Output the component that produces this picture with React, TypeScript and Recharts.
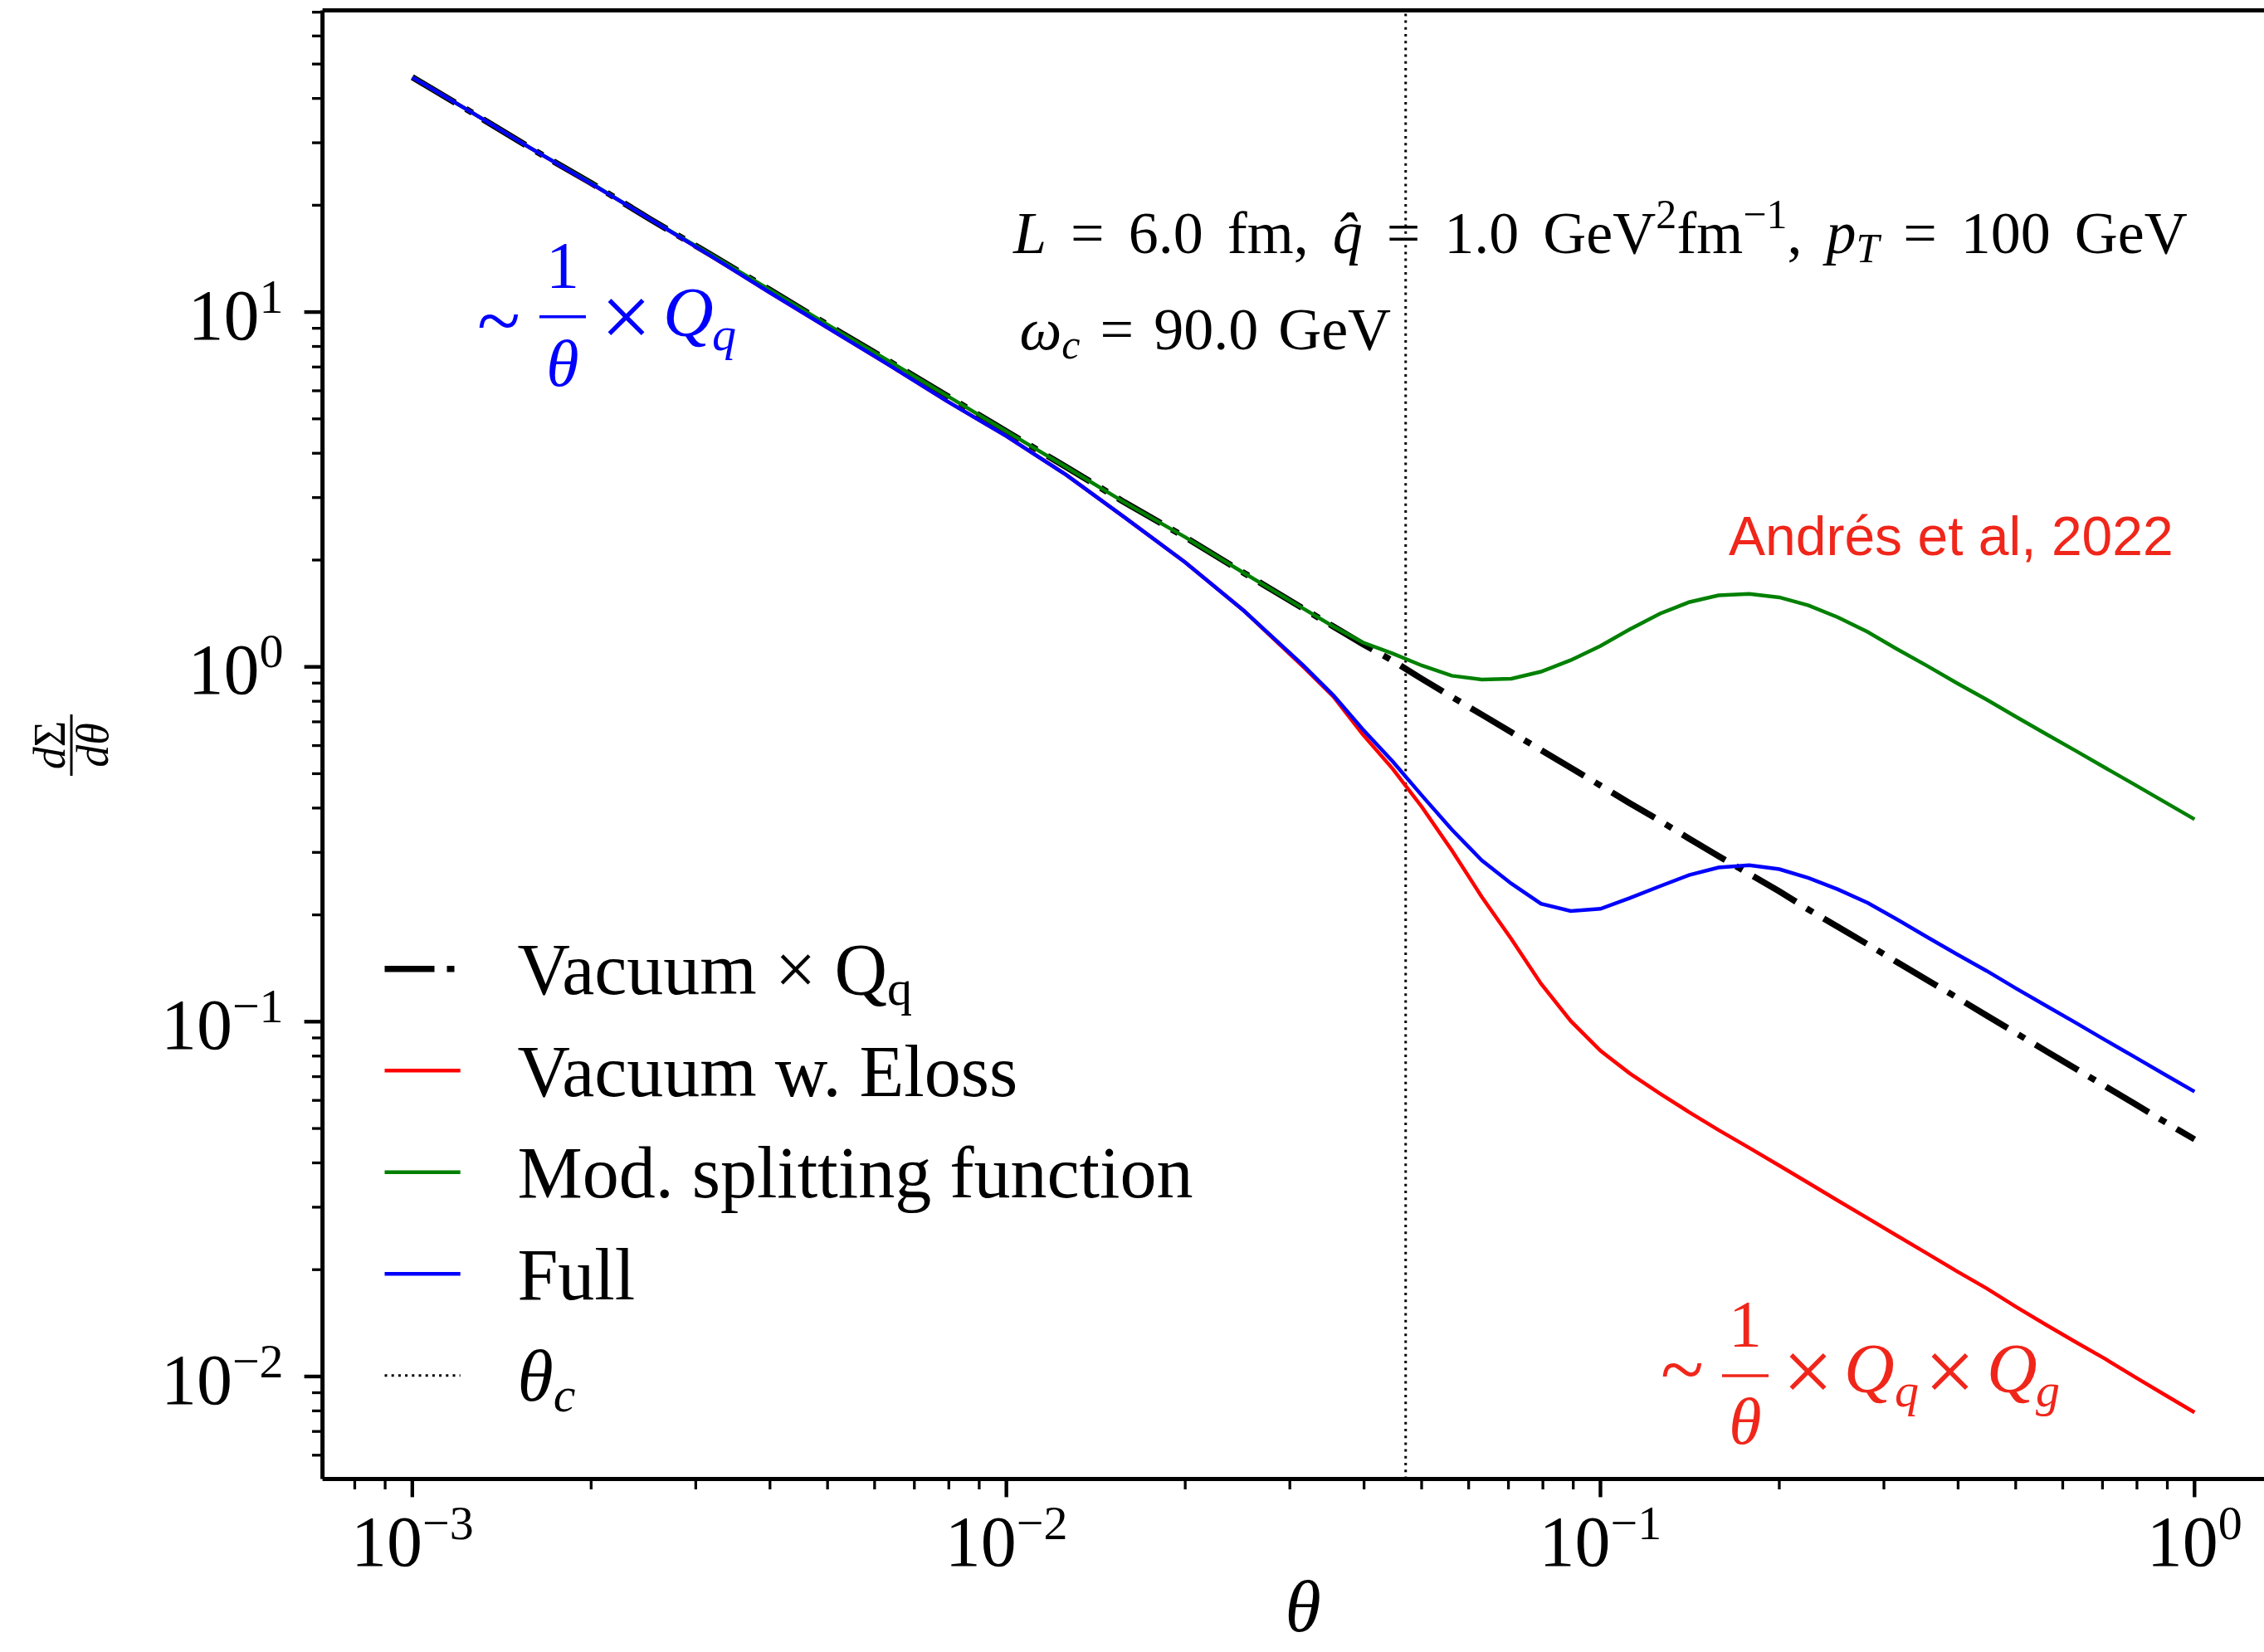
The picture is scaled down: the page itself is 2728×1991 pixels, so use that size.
import { LineChart, Line, XAxis, YAxis, ReferenceLine, Legend } from 'recharts';

// theta grid and the four curves
const THETA = [
  0.001, 0.00126, 0.00158, 0.002, 0.00251, 0.00316, 0.00398, 0.00501, 0.00631, 0.00794,
  0.01, 0.0126, 0.0158, 0.02, 0.0251, 0.0316,
  0.0355, 0.0398, 0.0447, 0.0501, 0.0562, 0.0631, 0.0708, 0.0794, 0.0891,
  0.1, 0.112, 0.126, 0.141, 0.158, 0.178, 0.2, 0.224, 0.251, 0.282, 0.316, 0.355, 0.398,
  0.447, 0.501, 0.562, 0.631, 0.708, 0.794, 0.891, 1.0,
];

const VACUUM = [
  45.9, 36.5, 29.0, 23.1, 18.3, 14.6, 11.6, 9.19, 7.31, 5.81,
  4.61, 3.66, 2.91, 2.32, 1.84, 1.46,
  1.3, 1.16, 1.04, 0.924, 0.823, 0.734, 0.654, 0.583, 0.52,
  0.463, 0.413, 0.368, 0.328, 0.293, 0.261, 0.233, 0.207, 0.185, 0.165, 0.147, 0.131, 0.117,
  0.104, 0.0928, 0.0827, 0.0737, 0.0657, 0.0586, 0.0522, 0.0466,
];

const ELOSS = [
  45.9, 36.5, 29.0, 23.0, 18.3, 14.5, 11.4, 9.02, 7.13, 5.61,
  4.47, 3.48, 2.64, 1.97, 1.44, 1.0,
  0.825, 0.645, 0.516, 0.402, 0.304, 0.225, 0.171, 0.128, 0.1005,
  0.0828, 0.0715, 0.0627, 0.0556, 0.0495, 0.0441, 0.0393, 0.0351, 0.0313, 0.0279, 0.0249, 0.0222, 0.0198,
  0.0177, 0.0157, 0.014, 0.0125, 0.0112, 0.00996, 0.00888, 0.00792,
];

const MOD_SPLIT = [
  45.9, 36.5, 29.0, 23.1, 18.3, 14.6, 11.6, 9.19, 7.31, 5.81,
  4.61, 3.66, 2.91, 2.32, 1.84, 1.46,
  1.3, 1.172, 1.09, 1.008, 0.944, 0.921, 0.926, 0.969, 1.044,
  1.145, 1.276, 1.413, 1.522, 1.59, 1.605, 1.57, 1.49, 1.379, 1.253, 1.121, 1.006, 0.9,
  0.808, 0.723, 0.647, 0.58, 0.519, 0.465, 0.416, 0.372,
];

const FULL = [
  45.9, 36.5, 29.0, 23.0, 18.3, 14.5, 11.4, 9.02, 7.13, 5.61,
  4.47, 3.48, 2.64, 1.97, 1.44, 1.01,
  0.832, 0.667, 0.541, 0.433, 0.348, 0.285, 0.245, 0.215, 0.205,
  0.208, 0.223, 0.241, 0.259, 0.272, 0.276, 0.269, 0.254, 0.236, 0.216, 0.194, 0.173, 0.155,
  0.139, 0.124, 0.111, 0.0993, 0.0887, 0.0794, 0.071, 0.0635,
];

const THETA_C = 0.047;

const X_MAJOR = [0.001, 0.01, 0.1, 1];
const X_MINOR = [
  0.0008, 0.0009, 0.002, 0.003, 0.004, 0.005, 0.006, 0.007, 0.008, 0.009,
  0.02, 0.03, 0.04, 0.05, 0.06, 0.07, 0.08, 0.09,
  0.2, 0.3, 0.4, 0.5, 0.6, 0.7, 0.8, 0.9,
];
const Y_MAJOR = [0.01, 0.1, 1, 10];
const Y_MINOR = [
  0.006, 0.007, 0.008, 0.009,
  0.02, 0.03, 0.04, 0.05, 0.06, 0.07, 0.08, 0.09,
  0.2, 0.3, 0.4, 0.5, 0.6, 0.7, 0.8, 0.9,
  2, 3, 4, 5, 6, 7, 8, 9,
  20, 30, 40, 50, 60, 70,
];

const X_DOMAIN = [0.000706, 1.309];
const Y_DOMAIN = [0.005144, 70.8];

const W = 2728;
const H = 1991;
const SERIF = '"Liberation Serif", "DejaVu Serif", serif';
const SANS = '"Liberation Sans", Arial, sans-serif';
const TEXT_RED = '#f0261b';

const data = THETA.map((theta, i) => ({
  theta,
  vacuum: VACUUM[i],
  eloss: ELOSS[i],
  mod: MOD_SPLIT[i],
  full: FULL[i],
}));

function expLabel(v: number) {
  const e = Math.round(Math.log10(v));
  return e < 0 ? `\u2212${-e}` : `${e}`;
}

function XTick(props: any) {
  const { x, y, payload } = props;
  const v = payload.value;
  const major = X_MAJOR.includes(v);
  return (
    <g>
      <line x1={x} x2={x} y1={y} y2={y + (major ? 22 : 12.6)} stroke="#000" strokeWidth={major ? 4.4 : 3.3} />
      {major && (
        <text x={x} y={y + 104.6} textAnchor="middle" fontFamily={SERIF} fontSize={86} fill="#000">
          10<tspan dy={-32} fontSize={58}>{expLabel(v)}</tspan>
        </text>
      )}
    </g>
  );
}

function YTick(props: any) {
  const { x, y, payload } = props;
  const v = payload.value;
  const major = Y_MAJOR.includes(v);
  return (
    <g>
      <line x1={x - (major ? 22 : 12.6)} x2={x} y1={y} y2={y} stroke="#000" strokeWidth={major ? 4.4 : 3.3} />
      {major && (
        <text x={x - 47} y={y + 32.7} textAnchor="end" fontFamily={SERIF} fontSize={86} fill="#000">
          10<tspan dy={-32} fontSize={58}>{expLabel(v)}</tspan>
        </text>
      )}
    </g>
  );
}

const LEGEND_ROWS = [
  { key: 'vacuum', color: '#000', width: 7.5, dash: '60 15 9 15' },
  { key: 'eloss', color: '#ff0000', width: 4.5, dash: undefined },
  { key: 'mod', color: '#008000', width: 4.5, dash: undefined },
  { key: 'full', color: '#0000ff', width: 4.5, dash: undefined },
  { key: 'thetac', color: '#000', width: 3, dash: '3 5.2' },
];

function legendText(key: string) {
  switch (key) {
    case 'vacuum':
      return (
        <>
          {'Vacuum \u00d7 Q'}
          <tspan fontSize={60} dy={13}>q</tspan>
        </>
      );
    case 'eloss':
      return 'Vacuum w. Eloss';
    case 'mod':
      return 'Mod. splitting function';
    case 'full':
      return 'Full';
    default:
      return (
        <>
          <tspan fontStyle="italic">{'\u03b8'}</tspan>
          <tspan fontStyle="italic" fontSize={60} dy={13}>c</tspan>
        </>
      );
  }
}

function LegendBox() {
  return (
    <svg width={900} height={650} style={{ overflow: 'visible' }}>
      {LEGEND_ROWS.map((r, i) => {
        const base = 98.3 + i * 122.5;
        return (
          <g key={r.key}>
            <line x1={23.5} x2={114.7} y1={base - 30.5} y2={base - 30.5} stroke={r.color} strokeWidth={r.width} strokeDasharray={r.dash} />
            <text x={183.4} y={base} fontFamily={SERIF} fontSize={88} fill="#000">
              {legendText(r.key)}
            </text>
          </g>
        );
      })}
    </svg>
  );
}

function Annotations() {
  return (
    <svg width={W} height={H} style={{ position: 'absolute', left: 0, top: 0, pointerEvents: 'none' }}>
      {/* axis labels */}
      <text x={1570} y={1966} textAnchor="middle" fontFamily={SERIF} fontSize={88} fontStyle="italic">{'\u03b8'}</text>
      <g transform="translate(86,898) rotate(-90)" fontFamily={SERIF} fontSize={54}>
        <line x1={-37} x2={37} y1={0} y2={0} stroke="#000" strokeWidth={3} />
        <text x={0} y={-8} textAnchor="middle">
          <tspan fontStyle="italic">d</tspan>{'\u03a3'}
        </text>
        <text x={0} y={44} textAnchor="middle" fontStyle="italic">{'d\u03b8'}</text>
      </g>

      {/* parameters */}
      <text x={1221} y={304.5} fontFamily={SERIF} fontSize={72} wordSpacing={11}>
        <tspan fontStyle="italic">L</tspan>
        {' = 6.0 fm, '}
        <tspan fontStyle="italic">{'q\u0302'}</tspan>
        {' = 1.0 GeV'}
        <tspan dy={-30} fontSize={50}>2</tspan>
        <tspan dy={30}>fm</tspan>
        <tspan dy={-30} fontSize={50}>{'\u22121'}</tspan>
        <tspan dy={30}>{', '}</tspan>
        <tspan fontStyle="italic">p</tspan>
        <tspan fontStyle="italic" fontSize={50} dy={11}>T</tspan>
        <tspan dy={-11}>{' = 100 GeV'}</tspan>
      </text>
      <text x={1228.5} y={421} fontFamily={SERIF} fontSize={72} wordSpacing={6}>
        <tspan fontStyle="italic">{'\u03c9'}</tspan>
        <tspan fontStyle="italic" fontSize={50} dy={11}>c</tspan>
        <tspan dy={-11}>{' = 90.0 GeV'}</tspan>
      </text>

      {/* vacuum scaling */}
      <g fill="#0000ff" fontFamily={SERIF} fontSize={80}>
        <text x={575} y={418} fontSize={96}>~</text>
        <line x1={650} x2={706} y1={381.7} y2={381.7} stroke="#0000ff" strokeWidth={3.5} />
        <text x={678} y={347} textAnchor="middle">1</text>
        <text x={678} y={465} textAnchor="middle" fontStyle="italic">{'\u03b8'}</text>
        <text x={724} y={418} fontSize={108}>{'\u00d7'}</text>
        <text x={799} y={405} fontStyle="italic" fontSize={84}>Q</text>
        <text x={858} y={422} fontStyle="italic" fontSize={58}>q</text>
      </g>

      {/* energy loss scaling */}
      <g fill={TEXT_RED} fontFamily={SERIF} fontSize={80}>
        <text x={2001} y={1682} fontSize={96}>~</text>
        <line x1={2075} x2={2131} y1={1658} y2={1658} stroke={TEXT_RED} strokeWidth={3.5} />
        <text x={2103} y={1623} textAnchor="middle">1</text>
        <text x={2103} y={1740} textAnchor="middle" fontStyle="italic">{'\u03b8'}</text>
        <text x={2148} y={1689} fontSize={108}>{'\u00d7'}</text>
        <text x={2222} y={1678} fontStyle="italic" fontSize={84}>Q</text>
        <text x={2283} y={1695} fontStyle="italic" fontSize={58}>q</text>
        <text x={2319} y={1689} fontSize={108}>{'\u00d7'}</text>
        <text x={2394} y={1678} fontStyle="italic" fontSize={84}>Q</text>
        <text x={2453} y={1695} fontStyle="italic" fontSize={58}>g</text>
      </g>

      <text x={2083} y={669} fontFamily={SANS} fontSize={66} fill={TEXT_RED}>
        Andrés et al, 2022
      </text>
    </svg>
  );
}

export default function App() {
  return (
    <div style={{ position: 'absolute', left: 0, top: 0, width: W, height: H, background: '#fff' }}>
      <LineChart width={W} height={H} data={data} margin={{ top: 12.6, right: 0, bottom: 0, left: 0 }}>
        <XAxis
          dataKey="theta"
          type="number"
          scale="log"
          domain={X_DOMAIN}
          allowDataOverflow
          ticks={[...X_MINOR, ...X_MAJOR]}
          interval={0}
          tickSize={0}
          tickMargin={0}
          tickLine={false}
          tick={XTick}
          height={208.6}
          axisLine={{ stroke: '#000', strokeWidth: 5 }}
        />
        <YAxis
          type="number"
          scale="log"
          domain={Y_DOMAIN}
          allowDataOverflow
          ticks={[...Y_MINOR, ...Y_MAJOR]}
          interval={0}
          tickSize={0}
          tickMargin={0}
          tickLine={false}
          tick={YTick}
          width={388.6}
          axisLine={{ stroke: '#000', strokeWidth: 5 }}
        />
        <ReferenceLine y={Y_DOMAIN[1]} stroke="#000" strokeWidth={5} ifOverflow="visible" />
        <ReferenceLine x={THETA_C} stroke="#000" strokeWidth={3} strokeDasharray="3 5.2" />
        <Line dataKey="vacuum" name="Vacuum × Qq" type="linear" stroke="#000" strokeWidth={7.5} strokeDasharray="60 15 9 15" dot={false} isAnimationActive={false} />
        <Line dataKey="eloss" name="Vacuum w. Eloss" type="linear" stroke="#ff0000" strokeWidth={4.5} dot={false} isAnimationActive={false} />
        <Line dataKey="mod" name="Mod. splitting function" type="linear" stroke="#008000" strokeWidth={4.5} dot={false} isAnimationActive={false} />
        <Line dataKey="full" name="Full" type="linear" stroke="#0000ff" strokeWidth={4.5} dot={false} isAnimationActive={false} />
        <Legend
          layout="horizontal"
          verticalAlign="middle"
          align="center"
          wrapperStyle={{ position: 'absolute', left: 440, top: 1100, width: 900, height: 650 }}
          content={() => <LegendBox />}
        />
      </LineChart>
      <Annotations />
    </div>
  );
}
